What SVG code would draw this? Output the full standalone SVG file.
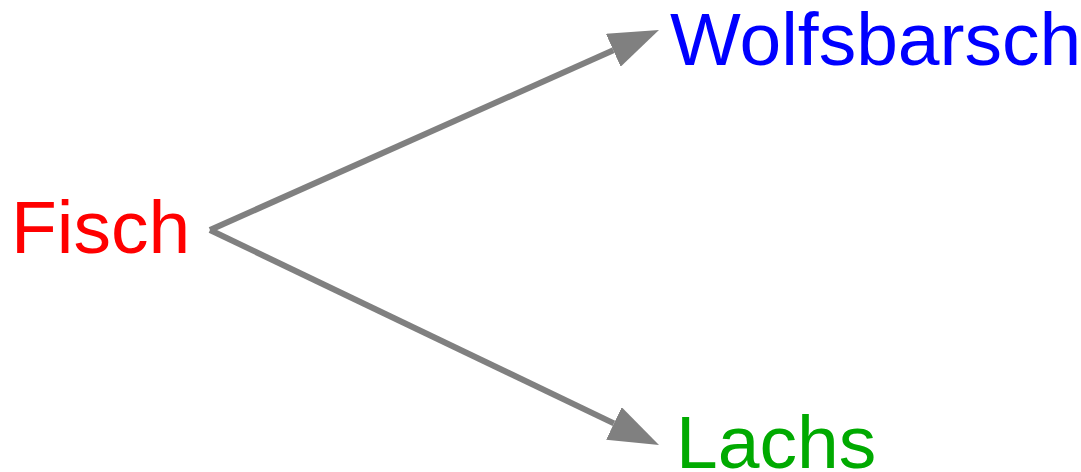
<svg xmlns="http://www.w3.org/2000/svg" width="1081" height="472" viewBox="0 0 1081 472">
<style>
.lbl{font-family:"Liberation Sans",Arial,sans-serif;font-size:75px}
.edge{stroke:#808080;stroke-width:6;fill:none}
</style>
<defs>
<marker id="ah" markerUnits="userSpaceOnUse" markerWidth="50" markerHeight="36" refX="0" refY="18" orient="auto">
<path d="M0,0 L50,18 L0,36 z" fill="#808080"/>
</marker>
</defs>
<rect width="1081" height="472" fill="#ffffff"/>
<g id="connectors">
<line class="edge" x1="210" y1="230" x2="613.3" y2="50.3" marker-end="url(#ah)"/>
<line class="edge" x1="210" y1="230" x2="613.9" y2="423.4" marker-end="url(#ah)"/>
</g>
<g id="fisch"><text class="lbl" x="11" y="253" fill="#ff0000">Fisch</text></g>
<g id="wolfsbarsch"><text class="lbl" x="670" y="65" fill="#0000ff">Wolfsbarsch</text></g>
<g id="lachs"><text class="lbl" x="676" y="468" fill="#00aa00">Lachs</text></g>
</svg>
